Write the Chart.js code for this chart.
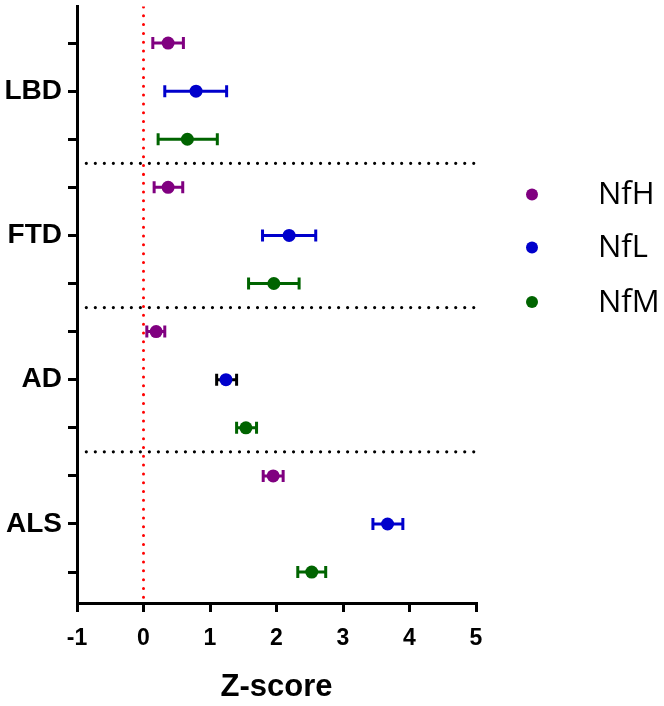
<!DOCTYPE html>
<html>
<head>
<meta charset="utf-8">
<script src="https://cdn.jsdelivr.net/npm/chart.js@4.4.0/dist/chart.umd.min.js"></script>
<style>
  html, body { margin: 0; padding: 0; background: #fff; }
  #wrap { width: 664px; height: 706px; position: relative; }
</style>
</head>
<body>
<div id="wrap"><canvas id="c"></canvas></div>
<script>
// ---- data ----
const categories = ['LBD', 'FTD', 'AD', 'ALS'];
const seriesNames = ['NfH', 'NfL', 'NfM'];
const nfhMean = [0.37, 0.37, 0.19, 1.95];
const nfhLow  = [0.14, 0.16, 0.05, 1.80];
const nfhHigh = [0.60, 0.59, 0.32, 2.10];
const nflMean = [0.79, 2.19, 1.24, 3.67];
const nflLow  = [0.32, 1.79, 1.10, 3.45];
const nflHigh = [1.25, 2.59, 1.40, 3.90];
const nfmMean = [0.66, 1.96, 1.54, 2.53];
const nfmLow  = [0.22, 1.58, 1.40, 2.32];
const nfmHigh = [1.11, 2.34, 1.70, 2.74];
const xTicks = [-1, 0, 1, 2, 3, 4, 5];
const refX = 0;

// ---- layout helpers ----
const colors = ['#800080', '#0000CC', '#006400'];
const nCat = categories.length;
const centerRow = i => (nCat - 1 - i) * 3 + 1;       // LBD top
const rowOffsets = [1, 0, -1];                       // NfH, NfL, NfM
const means = [nfhMean, nflMean, nfmMean];
const lows = [nfhLow, nflLow, nfmLow];
const highs = [nfhHigh, nflHigh, nfmHigh];

const rowLabel = {};
categories.forEach((c, i) => rowLabel[centerRow(i)] = c);
const allRows = [];
for (let r = 0; r < nCat * 3; r++) allRows.push(r);

const datasets = seriesNames.map((name, s) => ({
  type: 'scatter',
  label: name,
  data: categories.map((c, i) => ({ x: means[s][i], y: centerRow(i) + rowOffsets[s], lo: lows[s][i], hi: highs[s][i] })),
  backgroundColor: colors[s],
  borderColor: colors[s],
  pointRadius: 6.5,
  pointHoverRadius: 6.5,
  pointBorderWidth: 0,
  order: 1
}));

// separators between categories
for (let i = 0; i < nCat - 1; i++) {
  const y = centerRow(i) - 1.5;
  datasets.push({
    type: 'line', label: '_sep' + i,
    data: [{ x: -0.86, y }, { x: 4.99, y }],
    borderColor: '#000', borderWidth: 3.2, borderDash: [0.01, 9], borderCapStyle: 'round',
    pointRadius: 0, fill: false, order: 3
  });
}
// vertical reference line
datasets.push({
  type: 'line', label: '_ref',
  data: [{ x: refX, y: 11.75 }, { x: refX, y: -0.55 }],
  borderColor: '#ff0000', borderWidth: 3, borderDash: [0.01, 8.8], borderCapStyle: 'round',
  pointRadius: 0, fill: false, order: 3
});

const errorBarPlugin = {
  id: 'errorBars',
  beforeDatasetsDraw(chart) {
    const { ctx, scales: { x, y } } = chart;
    ctx.save();
    ctx.lineWidth = 3;
    ctx.lineCap = 'butt';
    chart.data.datasets.forEach((ds, di) => {
      if (di >= seriesNames.length) return;
      ds.data.forEach((p, pi) => {
        let col = colors[di];
        if (di === 1 && pi === 2) col = '#000';
        const yp = y.getPixelForValue(p.y);
        const x1 = x.getPixelForValue(p.lo), x2 = x.getPixelForValue(p.hi);
        ctx.strokeStyle = col;
        ctx.beginPath();
        ctx.moveTo(x1, yp); ctx.lineTo(x2, yp);
        ctx.moveTo(x1, yp - 6); ctx.lineTo(x1, yp + 6);
        ctx.moveTo(x2, yp - 6); ctx.lineTo(x2, yp + 6);
        ctx.stroke();
      });
    });
    ctx.restore();
  }
};

const legendPlugin = {
  id: 'customLegend',
  afterDraw(chart) {
    const { ctx } = chart;
    ctx.save();
    const ys = [194.5, 247.5, 302];
    seriesNames.forEach((name, s) => {
      ctx.fillStyle = colors[s];
      ctx.beginPath();
      ctx.arc(532, ys[s], 6, 0, Math.PI * 2);
      ctx.fill();
      ctx.fillStyle = '#000';
      ctx.font = '31px "Open Sans"';
      ctx.textBaseline = 'middle';
      ctx.textAlign = 'left';
      ctx.fillText(name, 598, ys[s] + 1);
    });
    ctx.restore();
  }
};

new Chart(document.getElementById('c'), {
  data: { datasets },
  options: {
    responsive: true,
    maintainAspectRatio: false,
    animation: false,
    events: [],
    layout: { padding: { top: 5, right: 188, left: 0, bottom: 0 } },
    plugins: { legend: { display: false }, tooltip: { enabled: false } },
    scales: {
      x: {
        type: 'linear', position: 'bottom',
        min: xTicks[0], max: xTicks[xTicks.length - 1],
        afterBuildTicks: s => { s.ticks = xTicks.map(v => ({ value: v })); },
        afterFit: s => { s.height = 103; s.paddingLeft = 0; s.paddingRight = 0; },
        grid: { drawOnChartArea: false, drawTicks: true, tickLength: 9, lineWidth: 3, color: '#000' },
        border: { display: true, color: '#000', width: 3 },
        ticks: { color: '#000', padding: 13, font: { family: '"Liberation Sans", Arial', size: 23, weight: 'bold' } },
        title: { display: true, text: 'Z-score', color: '#000', padding: { top: 0, bottom: 0 },
                 font: { family: '"Liberation Sans", Arial', size: 31, weight: 'bold' } }
      },
      y: {
        type: 'linear',
        min: -0.643, max: 11.76,
        afterBuildTicks: s => { s.ticks = allRows.map(v => ({ value: v })); },
        afterFit: s => { s.width = 77; s.paddingTop = 0; s.paddingBottom = 0; },
        grid: { drawOnChartArea: false, drawTicks: true, tickLength: 9, lineWidth: 3, color: '#000' },
        border: { display: true, color: '#000', width: 3 },
        ticks: { color: '#000', padding: 6, autoSkip: false,
                 callback: v => rowLabel[v] || '',
                 font: { family: '"Liberation Sans", Arial', size: 28, weight: 'bold' } }
      }
    }
  },
  plugins: [errorBarPlugin, legendPlugin]
});
</script>
</body>
</html>
